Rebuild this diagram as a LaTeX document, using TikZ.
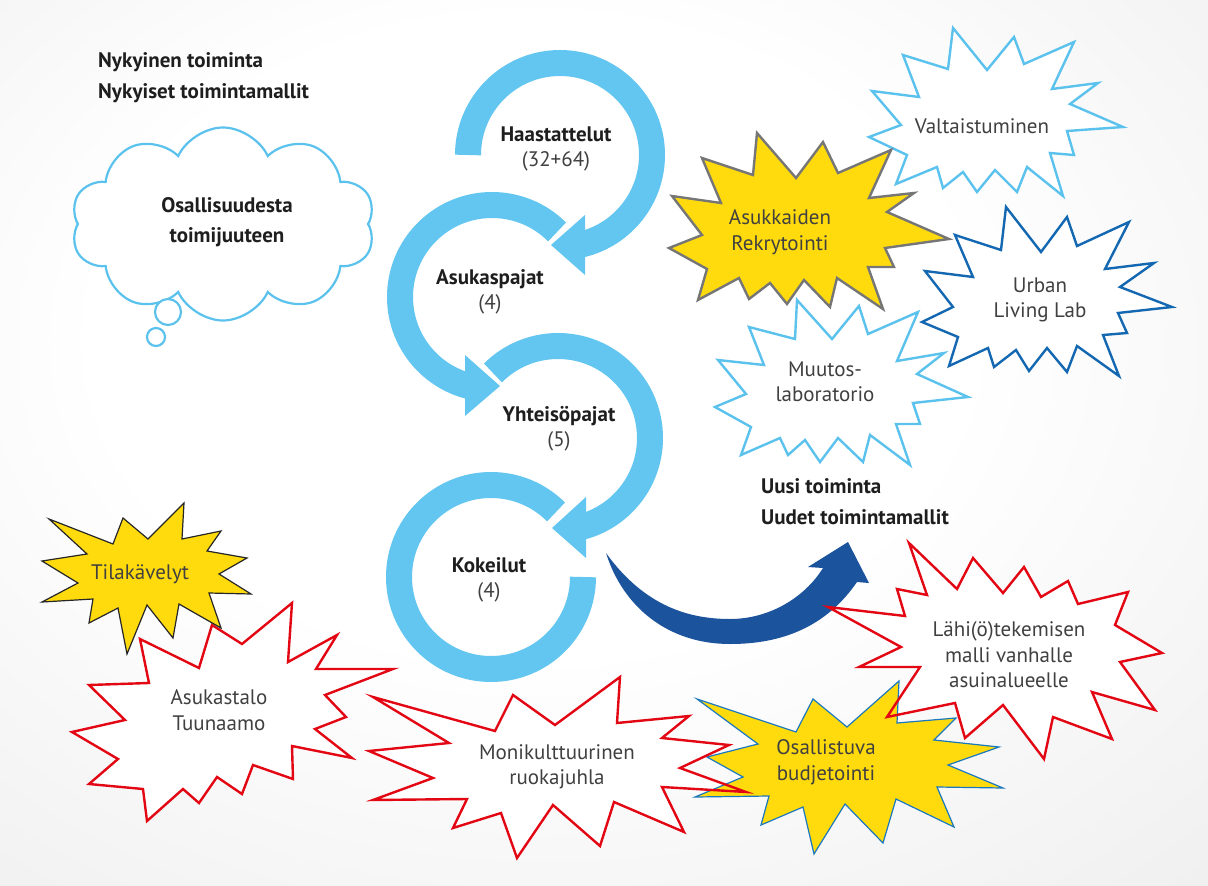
\documentclass[tikz,border=0pt]{standalone}
\usepackage{fontspec}
\setmainfont{PT Sans}
\usetikzlibrary{shapes.symbols}
\definecolor{ringblue}{HTML}{62C6F0}
\definecolor{arrowblue}{HTML}{1B539C}
\definecolor{lightline}{HTML}{5BC2EE}
\definecolor{urbanline}{HTML}{1468B2}
\definecolor{staryellow}{HTML}{FFDB0D}
\definecolor{greyline}{HTML}{767676}
\definecolor{starred}{HTML}{E30613}
\definecolor{osline}{HTML}{1A78BE}
\definecolor{txtdark}{HTML}{1E1E1E}
\definecolor{txtgrey}{HTML}{404040}
\pgfdeclareradialshading{bgshade}{\pgfpoint{-4bp}{8bp}}{color(0bp)=(white); color(18bp)=(white); color(50bp)=(black!9); color(72bp)=(black!15)}
\tikzset{
  ring/.style={draw=ringblue, line width=26pt},
  ringhead/.style={fill=ringblue},
  lbstar/.style={draw=lightline, line width=2.4pt, fill=white, line join=miter},
  urbstar/.style={draw=urbanline, line width=2.4pt, fill=white, line join=miter},
  greystar/.style={draw=greyline, line width=2.4pt, fill=staryellow, line join=miter},
  blackstar/.style={draw=black!85, line width=1.2pt, fill=staryellow, line join=miter},
  osstar/.style={draw=osline, line width=1.2pt, fill=staryellow, line join=miter},
  redstar/.style={draw=starred, line width=2.4pt, fill=white, line join=miter},
  redline/.style={draw=starred, line width=2.4pt, line join=miter},
  whitefill/.style={fill=white},
  startxt/.style={font=\fontsize{21}{25.5}\selectfont, text=txtgrey, align=center, inner sep=0pt},
  ringtxt/.style={font=\fontsize{21}{25}\selectfont, text=txtdark, align=center, inner sep=0pt},
  hdrtxt/.style={font=\fontsize{21}{31}\selectfont\bfseries, text=txtdark, align=left, inner sep=0pt},
}
\begin{document}
\begin{tikzpicture}[x=1pt, y=-1pt]
\useasboundingbox (0,0) rectangle (1208,886);
\shade[shading=bgshade] (0,0) rectangle (1208,886);

% thought cloud
\node[cloud, cloud puffs=10, cloud puff arc=130, cloud ignores aspect, draw=lightline, line width=2.2pt, fill=white, minimum width=304pt, minimum height=193pt, inner sep=0pt] (cloud) at (223,224) {};
\node[circle, draw=lightline, line width=2.2pt, fill=white, minimum size=26pt, inner sep=0pt] (bub1) at (168,312) {};
\node[circle, draw=lightline, line width=2.2pt, fill=white, minimum size=18pt, inner sep=0pt] (bub2) at (156,337) {};
\node[hdrtxt, align=center, font=\fontsize{21}{30}\selectfont\bfseries] (osa) at (227,222) {Osallisuudesta\\toimijuuteen};

% header texts
\node[hdrtxt, anchor=west] (nyk) at (98,78) {Nykyinen toiminta\\Nykyiset toimintamallit};
\node[hdrtxt, anchor=west] (uusi) at (761,502) {Uusi toiminta\\Uudet toimintamallit};

% rings
\coordinate (c1) at (560,155);
\coordinate (c2) at (492,297);
\coordinate (c3) at (558,438);
\coordinate (c4) at (491,577);
\draw[ring] (c1) ++(180:92) arc[start angle=180, end angle=436.5, radius=92];
\fill[ringhead] (585,215) -- (551,245) -- (585,275) -- cycle;
\draw[ring] (c2) ++(315:92) arc[start angle=315, end angle=104, radius=92];
\fill[ringhead] (465,355) -- (500,386) -- (465,416) -- cycle;
\draw[ring] (c3) ++(225:92) arc[start angle=225, end angle=435.5, radius=92];
\fill[ringhead] (586,497) -- (552,528) -- (586,558) -- cycle;
\draw[ring] (c4) ++(315:92) arc[start angle=315, end angle=0, radius=92];

\node[ringtxt] (haas) at (556,149) {\bfseries Haastattelut\\{\mdseries\color{txtgrey}(32+64)}};
\node[ringtxt] (asp) at (490,292) {\bfseries Asukaspajat\\{\mdseries\color{txtgrey}(4)}};
\node[ringtxt] (yht) at (559,429) {\bfseries Yhteisöpajat\\{\mdseries\color{txtgrey}(5)}};
\node[ringtxt] (kok) at (489,580) {\bfseries Kokeilut\\{\mdseries\color{txtgrey}(4)}};

% dark blue arrow
\fill[arrowblue] (606,553) .. controls (645,607) and (690,619) .. (730,619)
  .. controls (770,619) and (805,597) .. (823,568) -- (808,567) -- (848,542) -- (869,583) -- (857,582)
  .. controls (826,627) and (782,644) .. (730,644) .. controls (668,644) and (623,607) .. (606,553) -- cycle;

% top right stars
\draw[lbstar] (953,28) -- (987,70) -- (1014,37) -- (1024,64) -- (1074,42) -- (1052,89) -- (1098,83) -- (1070,104) -- (1123,127) -- (1067,131) -- (1074,155) -- (1050,153) -- (1063,196) -- (1027,167) -- (1017,192) -- (995,170) -- (977,192) -- (963,172) -- (943,188) -- (937,167) -- (896,184) -- (907,155) -- (869,137) -- (901,125) -- (872,91) -- (919,97) -- (903,55) -- (948,69) -- cycle;
\draw[greystar] (757,133) -- (796,178) -- (823,142) -- (838,173) -- (891,150) -- (869,198) -- (914,193) -- (887,212) -- (949,239) -- (885,248) -- (894,267) -- (868,267) -- (883,309) -- (837,278) -- (830,307) -- (804,280) -- (787,304) -- (770,283) -- (749,299) -- (739,278) -- (698,300) -- (707,269) -- (669,248) -- (702,235) -- (672,196) -- (721,203) -- (702,158) -- (753,175) -- cycle;
\draw[urbstar] (1006,207) -- (1041,252) -- (1067,217) -- (1077,246) -- (1129,222) -- (1105,269) -- (1154,263) -- (1120,287) -- (1172,307) -- (1118,313) -- (1127,333) -- (1103,335) -- (1119,376) -- (1077,346) -- (1067,372) -- (1047,348) -- (1029,371) -- (1016,350) -- (994,367) -- (988,348) -- (949,366) -- (958,337) -- (922,322) -- (953,307) -- (925,271) -- (973,277) -- (955,235) -- (1001,250) -- cycle;
\draw[lbstar] (797,300) -- (832,339) -- (859,306) -- (868,334) -- (918,312) -- (897,361) -- (944,353) -- (917,374) -- (968,397) -- (913,403) -- (920,424) -- (896,424) -- (910,465) -- (870,435) -- (863,462) -- (838,438) -- (820,462) -- (805,440) -- (788,455) -- (780,438) -- (741,455) -- (751,427) -- (715,407) -- (746,394) -- (718,360) -- (764,365) -- (749,327) -- (795,339) -- cycle;

\node[startxt] (valt) at (982,126) {Valtaistuminen};
\node[startxt] (asuk) at (780,232) {Asukkaiden\\Rekrytointi};
\node[startxt] (urban) at (1040,300) {Urban\\Living Lab};
\node[startxt] (muut) at (825,382) {Muutos-\\laboratorio};

% bottom left stars
\draw[redstar] (292,603) -- (288,662) -- (337,635) -- (316,669) -- (393,669) -- (325,695) -- (346,717) -- (315,729) -- (352,758) -- (292,746) -- (293,779) -- (253,765) -- (242,794) -- (217,777) -- (199,803) -- (183,789) -- (147,821) -- (143,789) -- (89,784) -- (118,759) -- (72,732) -- (125,720) -- (89,685) -- (149,683) -- (140,639) -- (199,668) -- (212,625) -- (242,644) -- cycle;
\draw[blackstar] (184,503) -- (182,539) -- (221,531) -- (207,551) -- (247,558) -- (219,574) -- (251,594) -- (209,593) -- (221,628) -- (179,604) -- (173,638) -- (147,605) -- (127,654) -- (118,608) -- (89,623) -- (93,599) -- (42,602) -- (78,583) -- (42,561) -- (87,554) -- (49,519) -- (113,544) -- (123,518) -- (148,539) -- cycle;
\node[startxt] (tila) at (140,574) {Tilakävelyt};
\node[startxt] (talo) at (219,710) {Asukastalo\\Tuunaamo};

% bottom right stars: fills first
\fill[whitefill] (909,543) -- (957,589) -- (973,558) -- (1003,593) -- (1024,567) -- (1041,597) -- (1068,581) -- (1078,604) -- (1128,592) -- (1115,625) -- (1162,653) -- (1120,662) -- (1155,710) -- (1092,692) -- (1112,739) -- (1053,717) -- (1044,759) -- (1003,705) -- (965,738) -- (955,703) -- (887,717) -- (920,667) -- (859,667) -- (901,647) -- (828,607) -- (905,616) -- (897,589) -- (927,595) -- cycle;
\fill[whitefill] (620,677) -- (617,723) -- (689,716) -- (662,738) -- (729,745) -- (680,768) -- (746,792) -- (662,787) -- (684,832) -- (614,802) -- (600,846) -- (553,805) -- (517,858) -- (501,813) -- (453,828) -- (467,799) -- (373,800) -- (433,778) -- (369,751) -- (449,743) -- (373,697) -- (495,731) -- (513,695) -- (555,725) -- cycle;
\draw[osstar] (899,681) -- (897,723) -- (956,718) -- (934,740) -- (999,747) -- (948,765) -- (1003,788) -- (937,787) -- (954,827) -- (896,799) -- (883,843) -- (845,804) -- (814,854) -- (803,807) -- (761,825) -- (769,796) -- (695,797) -- (743,777) -- (707,757) -- (758,744) -- (697,699) -- (796,732) -- (813,699) -- (847,727) -- cycle;
\draw[redline] (909,543) -- (957,589) -- (973,558) -- (1003,593) -- (1024,567) -- (1041,597) -- (1068,581) -- (1078,604) -- (1128,592) -- (1115,625) -- (1162,653) -- (1120,662) -- (1155,710) -- (1092,692) -- (1112,739) -- (1053,717) -- (1044,759) -- (1003,705) -- (965,738) -- (955,703) -- (887,717) -- (920,667) -- (859,667) -- (901,647) -- (828,607) -- (905,616) -- (897,589) -- (927,595) -- cycle;
\draw[redline] (620,677) -- (617,723) -- (689,716) -- (662,738) -- (729,745) -- (680,768) -- (746,792) -- (662,787) -- (684,832) -- (614,802) -- (600,846) -- (553,805) -- (517,858) -- (501,813) -- (453,828) -- (467,799) -- (373,800) -- (433,778) -- (369,751) -- (449,743) -- (373,697) -- (495,731) -- (513,695) -- (555,725) -- cycle;

\node[startxt] (lahi) at (1009,655) {Lähi(ö)tekemisen\\malli vanhalle\\asuinalueelle};
\node[startxt] (moni) at (557,767) {Monikulttuurinen\\ruokajuhla};
\node[startxt] (osal) at (826,762) {Osallistuva\\budjetointi};
\end{tikzpicture}
\end{document}
